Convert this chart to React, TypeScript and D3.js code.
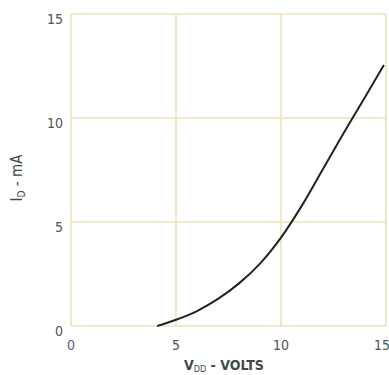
import React from "react";
import * as d3 from "d3";

const voltage = [4.1, 5, 6, 7, 8, 9, 10, 11, 12, 13, 14, 14.9];
const current = [0, 0.3, 0.72, 1.3, 2.05, 3.0, 4.25, 5.8, 7.55, 9.3, 11.0, 12.55];
const xTicks = [0, 5, 10, 15];
const yTicks = [0, 5, 10, 15];

const W = 389;
const H = 375;
const FONT = "'DejaVu Sans Condensed', 'Liberation Sans Narrow', 'DejaVu Sans', sans-serif";

export default function App() {
  const x = d3.scaleLinear().domain([0, 15]).range([71, 386]);
  const y = d3.scaleLinear().domain([0, 15]).range([326, 14]);
  const pts = voltage.map((v, i) => [v, current[i]] as [number, number]);
  const line = d3
    .line<[number, number]>()
    .x((d) => x(d[0]))
    .y((d) => y(d[1]))
    .curve(d3.curveCatmullRom);
  const grid = "#ede0bd";
  return (
    <svg
      width={W}
      height={H}
      style={{ position: "absolute", left: 0, top: 0, background: "#fff" }}
    >
      {yTicks.map((t) => (
        <line key={"h" + t} x1={x(0)} x2={x(15)} y1={y(t)} y2={y(t)} stroke={grid} strokeWidth={1.6} />
      ))}
      {xTicks.map((t) => (
        <line key={"v" + t} x1={x(t)} x2={x(t)} y1={y(0)} y2={y(15)} stroke={grid} strokeWidth={1.6} />
      ))}
      {yTicks.map((t) => (
        <text
          key={"yl" + t}
          x={63}
          y={y(t) + 6}
          textAnchor="end"
          dominantBaseline="middle"
          fontFamily={FONT}
          fontSize={14}
          fill="#4a5552"
        >
          {t}
        </text>
      ))}
      {xTicks.map((t) => (
        <text
          key={"xl" + t}
          x={x(t) - (t === 15 ? 4 : 0)}
          y={346}
          textAnchor="middle"
          dominantBaseline="middle"
          fontFamily={FONT}
          fontSize={14}
          fill={t === 0 ? "#5a6080" : "#4a5552"}
        >
          {t}
        </text>
      ))}
      <path d={line(pts) || ""} fill="none" stroke="#222" strokeWidth={2} />
      <text x={184} y={370} fontFamily={FONT} fontSize={14} fontWeight="bold" fill="#3f4a48">
        V
        <tspan fontSize={9} fontWeight="normal" dy={2}>DD</tspan>
        <tspan dy={-2}> - VOLTS</tspan>
      </text>
      <text
        transform="translate(22,178) rotate(-90)"
        textAnchor="middle"
        fontFamily={FONT}
        fontSize={15}
        fill="#3f4a48"
      >
        I
        <tspan fontSize={10} dy={3}>D</tspan>
        <tspan dy={-3}> - mA</tspan>
      </text>
    </svg>
  );
}
